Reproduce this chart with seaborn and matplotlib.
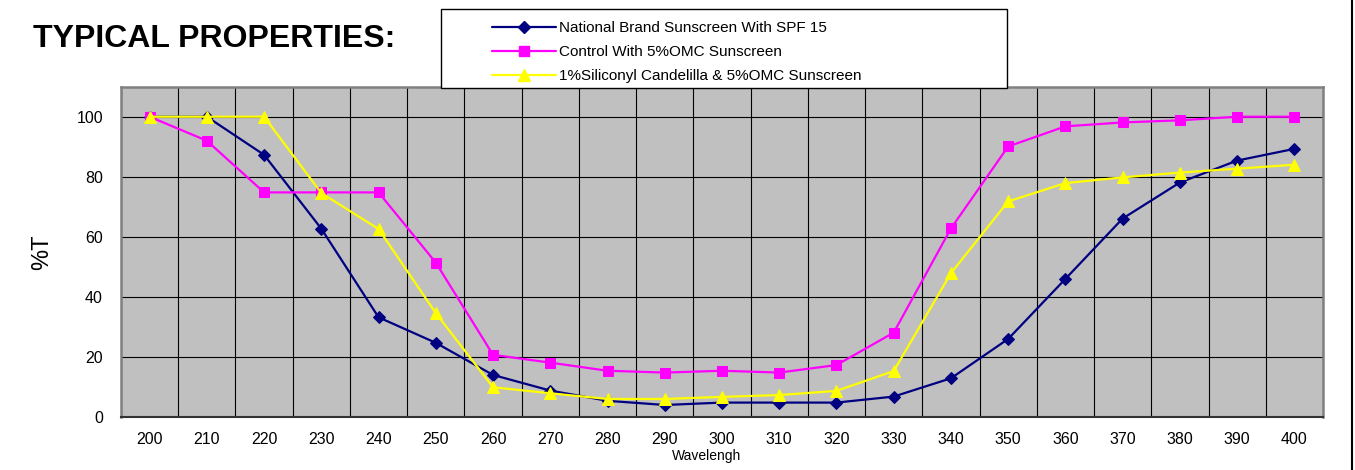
#sunscreen transmission chart, %T against wavelength
import pandas as pd
import numpy as np
import matplotlib
matplotlib.use("Agg")
import matplotlib.pyplot as plt
import seaborn as sns
from matplotlib.patches import Rectangle
from matplotlib.lines import Line2D

#the data
wavelengths = [200, 210, 220, 230, 240, 250, 260, 270, 280, 290, 300,
               310, 320, 330, 340, 350, 360, 370, 380, 390, 400]
national = [100, 100, 87.3, 62.7, 33.2, 24.7, 14.0, 8.8, 5.4, 4.0, 4.8,
            4.8, 4.8, 6.8, 12.9, 26.0, 46.0, 66.1, 78.1, 85.4, 89.3]
control = [100, 92.0, 74.8, 74.8, 74.8, 51.4, 20.7, 18.1, 15.4, 14.8, 15.4,
           14.8, 17.3, 28.1, 62.8, 90.1, 96.8, 98.1, 98.8, 100, 100]
siliconyl = [100, 100, 100, 74.6, 62.6, 34.6, 9.9, 7.9, 6.0, 6.0, 6.7,
             7.3, 8.7, 15.3, 47.9, 71.8, 77.9, 79.8, 81.4, 82.7, 84.0]
series_names = ["National Brand Sunscreen With SPF 15",
                "Control With 5%OMC Sunscreen",
                "1%Siliconyl Candelilla & 5%OMC Sunscreen"]

sns.set_style("white")
plt.rcParams['font.family'] = ['Liberation Sans', 'DejaVu Sans']
plt.rcParams['text.color'] = 'black'
plt.rcParams['axes.labelcolor'] = 'black'
plt.rcParams['xtick.color'] = 'black'
plt.rcParams['ytick.color'] = 'black'

#category positions, like the excel line chart
pos = np.arange(len(wavelengths))

fig = plt.figure(figsize=(13.55, 4.7), dpi=100)
ax = fig.add_axes([121/1355, 1-417/470, (1323-121)/1355, (417-86.7)/470])
ax.set_facecolor("#C0C0C0")

styles = [("#000080", "D", 6.5), ("#FF00FF", "s", 7.5), ("#FFFF00", "^", 9)]
for vals, name, (col, mk, ms) in zip([national, control, siliconyl], series_names, styles):
    sns.lineplot(x=pos, y=vals, ax=ax, color=col, marker=mk, markersize=ms,
                 markeredgecolor=col, linewidth=1.6, label=name, legend=False)

ax.set_xlim(-0.5, len(wavelengths) - 0.5)
ax.set_ylim(0, 110)
ax.set_yticks([0, 20, 40, 60, 80, 100])
ax.set_xticks(pos)
ax.set_xticklabels([str(w) for w in wavelengths])
ax.set_xticks(np.arange(-0.5, len(wavelengths)), minor=True)

#gridlines between categories
ax.grid(False)
ax.grid(which="minor", axis="x", color="black", linewidth=0.8)
ax.grid(which="major", axis="y", color="black", linewidth=0.8)
ax.set_axisbelow(True)

ax.tick_params(axis="x", which="major", length=0, pad=11, labelsize=11.5)
ax.tick_params(axis="x", which="minor", length=5, width=1, color="black", direction="out")
ax.tick_params(axis="y", length=5, width=1, color="black", direction="out", labelsize=11.5, pad=8)

for s in ["left", "top", "right"]:
    ax.spines[s].set_color("#808080")
    ax.spines[s].set_linewidth(1.8)
ax.spines["bottom"].set_color("#333333")
ax.spines["bottom"].set_linewidth(1.5)

ax.set_ylabel("%T", fontsize=17)
ax.yaxis.set_label_coords(-68/1202, 0.5)
ax.set_xlabel("Wavelengh", fontsize=10)
ax.xaxis.set_label_coords((707-121)/1202, -32/330)

fig.text(33/1355, 1-39/470, "TYPICAL PROPERTIES:", fontsize=23, fontweight="bold",
         va="center", ha="left")

#legend box drawn by hand so the left padding matches
fig.patches.append(Rectangle((441/1355, 1-88/470), (1007-441)/1355, (88-9)/470,
                             transform=fig.transFigure, facecolor="white",
                             edgecolor="black", linewidth=1))
handles = [Line2D([], [], color=c, marker=m, markersize=s, markeredgecolor=c, linewidth=1.6)
           for c, m, s in styles]
fig.legend(handles, series_names, loc="upper left", bbox_to_anchor=(480/1355, 1-9/470),
           frameon=False, fontsize=11, handlelength=4.2, handletextpad=0.2,
           labelspacing=0.65, borderpad=0.3)

#border line on the right edge
fig.add_artist(Line2D([1352/1355, 1352/1355], [0, 1], transform=fig.transFigure,
                      color="black", linewidth=1.5))

plt.savefig("out.png", dpi=100)
